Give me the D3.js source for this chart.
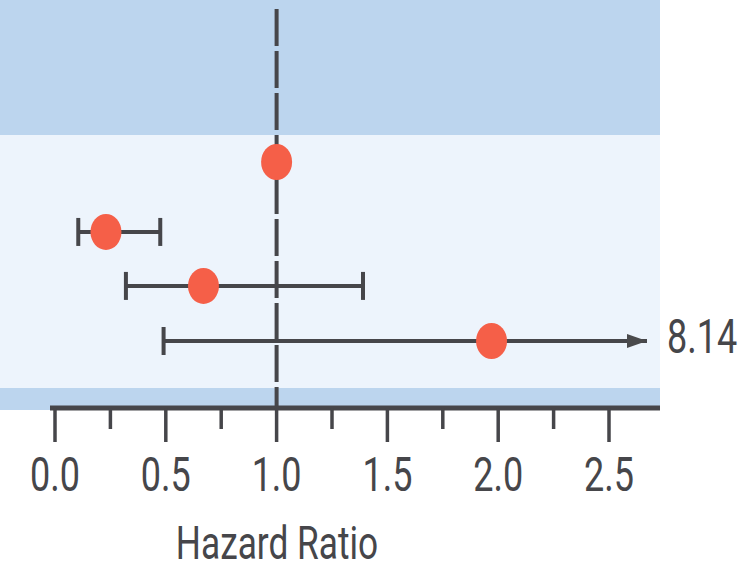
<html>
  <style>
    body { margin: 0; background: #fff; }
    text { font-family: Roboto, "Noto Sans", sans-serif; fill: #46464a; }
  </style>
  <body>
    <svg id="chart" width="742" height="570"></svg>
  </body>
  <script src="https://cdn.jsdelivr.net/npm/d3@7"></script>
  <script>
    // rows from top to bottom
    const rowNames = ['Reference', 'Group A', 'Group B', 'Group C']
    const hazard = [1.0, 0.23, 0.67, 1.97]
    const lower = [null, 0.105, 0.32, 0.49]
    const upper = [null, 0.475, 1.39, 8.14]
    const xTicks = [0, 0.5, 1.0, 1.5, 2.0, 2.5]
    const xMinorTicks = [0.25, 0.75, 1.25, 1.75, 2.25]

    const dark = '#46464a'
    const squeeze = 0.75 // text in the picture is narrow

    const svg = d3.select('#chart')
    const x = d3.scaleLinear().domain([0, 2.5]).range([55, 609])
    const xMax = x.invert(647) // where the arrow stops
    // first row sits a bit apart from the others
    const slot = [0, 1.27, 2.25, 3.25]
    const y = d3.scaleLinear().domain([0, 3.25]).range([162, 341])

    // background bands
    svg.append('rect').attr('x', 0).attr('y', 0).attr('width', 660).attr('height', 135).attr('fill', '#bcd5ee')
    svg.append('rect').attr('x', 0).attr('y', 135).attr('width', 660).attr('height', 253).attr('fill', '#edf4fc')
    svg.append('rect').attr('x', 0).attr('y', 388).attr('width', 660).attr('height', 22).attr('fill', '#bcd5ee')

    // reference line at HR = 1
    svg.append('line')
      .attr('x1', x(1)).attr('x2', x(1))
      .attr('y1', 9).attr('y2', 408)
      .attr('stroke', dark).attr('stroke-width', 4)
      .attr('stroke-dasharray', '37 5')

    svg.append('defs').append('marker')
      .attr('id', 'arrow')
      .attr('viewBox', '0 0 10 10')
      .attr('refX', 10).attr('refY', 5)
      .attr('markerUnits', 'userSpaceOnUse')
      .attr('markerWidth', 34).attr('markerHeight', 20)
      .attr('orient', 'auto')
      .append('path').attr('d', 'M0,1.5 L10,5 L0,8.5 Z').attr('fill', '#4a4a4c')

    const rows = rowNames.map((name, i) => ({ name, hr: hazard[i], lo: lower[i], hi: upper[i], i }))
    const withCi = rows.filter(d => d.lo !== null)

    svg.selectAll('.ci').data(withCi).enter().append('line')
      .attr('class', 'ci')
      .attr('x1', d => x(d.lo))
      .attr('x2', d => x(Math.min(d.hi, xMax)))
      .attr('y1', d => y(slot[d.i])).attr('y2', d => y(slot[d.i]))
      .attr('stroke', dark).attr('stroke-width', 4)
      .attr('marker-end', d => d.hi > xMax ? 'url(#arrow)' : null)

    const caps = []
    withCi.forEach(d => {
      caps.push({ v: d.lo, i: d.i })
      if (d.hi <= xMax) caps.push({ v: d.hi, i: d.i })
    })
    svg.selectAll('.cap').data(caps).enter().append('line')
      .attr('class', 'cap')
      .attr('x1', d => x(d.v)).attr('x2', d => x(d.v))
      .attr('y1', d => y(slot[d.i]) - 14).attr('y2', d => y(slot[d.i]) + 14)
      .attr('stroke', dark).attr('stroke-width', 4)

    svg.selectAll('.pt').data(rows).enter().append('ellipse')
      .attr('class', 'pt')
      .attr('cx', d => x(d.hr)).attr('cy', d => y(slot[d.i]))
      .attr('rx', 15.5).attr('ry', 18)
      .attr('fill', '#f55f48')

    // value label for the clipped upper limit
    svg.selectAll('.over').data(withCi.filter(d => d.hi > xMax)).enter().append('text')
      .attr('class', 'over')
      .attr('transform', d => `translate(667,${y(slot[d.i]) + 12}) scale(${squeeze},1)`)
      .attr('font-size', 48)
      .text(d => d3.format('.2f')(d.hi))

    // axis
    svg.append('line')
      .attr('x1', 50).attr('x2', 660).attr('y1', 408).attr('y2', 408)
      .attr('stroke', dark).attr('stroke-width', 5)
    svg.selectAll('.tick').data(xTicks).enter().append('line')
      .attr('x1', d => x(d)).attr('x2', d => x(d))
      .attr('y1', 408).attr('y2', 442)
      .attr('stroke', dark).attr('stroke-width', 3.5)
    svg.selectAll('.mtick').data(xMinorTicks).enter().append('line')
      .attr('x1', d => x(d)).attr('x2', d => x(d))
      .attr('y1', 408).attr('y2', 429)
      .attr('stroke', dark).attr('stroke-width', 3.5)
    svg.selectAll('.tlab').data(xTicks).enter().append('text')
      .attr('transform', d => `translate(${x(d)},491) scale(${squeeze},1)`)
      .attr('text-anchor', 'middle')
      .attr('font-size', 48)
      .text(d => d3.format('.1f')(d))

    svg.append('text')
      .attr('transform', `translate(277,559) scale(${squeeze},1)`)
      .attr('text-anchor', 'middle')
      .attr('font-size', 47)
      .text('Hazard Ratio')
  </script>
</html>
